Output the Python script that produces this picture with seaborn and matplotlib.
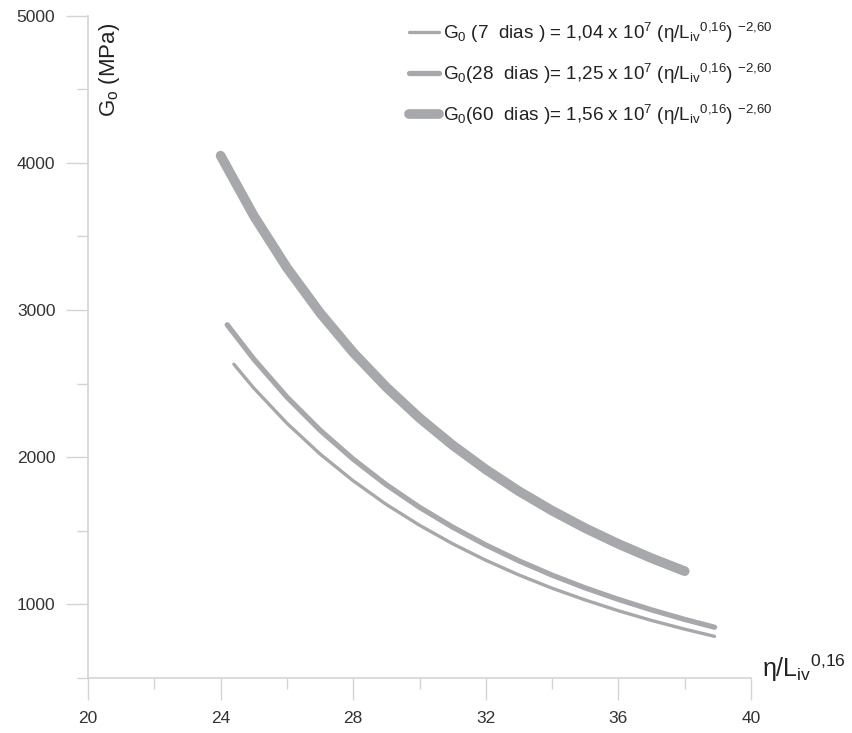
import matplotlib
matplotlib.use("Agg")
import matplotlib.pyplot as plt
import seaborn as sns
import pandas as pd
from matplotlib.ticker import MultipleLocator

# ---- data ----
x_7 = [24.4, 25, 26, 27, 28, 29, 30, 31, 32, 33, 34, 35, 36, 37, 38, 38.9]
g_7 = [2632, 2470, 2231, 2022, 1840, 1679, 1538, 1412, 1300, 1200, 1110, 1030, 957, 891, 832, 783]

x_28 = [24.2, 25, 26, 27, 28, 29, 30, 31, 32, 33, 34, 35, 36, 37, 38, 38.9]
g_28 = [2900, 2667, 2409, 2184, 1987, 1813, 1660, 1525, 1404, 1296, 1199, 1112, 1034, 963, 898, 845]

x_60 = [24.0, 25, 26, 27, 28, 29, 30, 31, 32, 33, 34, 35, 36, 37, 38.0]
g_60 = [4049, 3641, 3288, 2981, 2712, 2476, 2267, 2082, 1917, 1769, 1637, 1518, 1411, 1314, 1226]

labels = [
    r"G$_0$ (7  dias ) = 1,04 x 10$^7$ (η/L$_{\mathrm{iv}}$$^{\mathrm{0{,}16}}$) $^{\mathrm{-2{,}60}}$",
    r"G$_0$(28  dias )= 1,25 x 10$^7$ (η/L$_{\mathrm{iv}}$$^{\mathrm{0{,}16}}$) $^{\mathrm{-2{,}60}}$",
    r"G$_0$(60  dias )= 1,56 x 10$^7$ (η/L$_{\mathrm{iv}}$$^{\mathrm{0{,}16}}$) $^{\mathrm{-2{,}60}}$",
]
x_ticks = [20, 24, 28, 32, 36, 40]
y_ticks = [1000, 2000, 3000, 4000, 5000]

sns.set_theme(style="white")
plt.rcParams['font.family'] = ['Liberation Sans', 'DejaVu Sans']
plt.rcParams['mathtext.fontset'] = 'custom'
plt.rcParams['mathtext.rm'] = 'Liberation Sans'
plt.rcParams['mathtext.it'] = 'Liberation Sans:italic'

W, H = 853, 733
fig = plt.figure(figsize=(W / 100, H / 100), dpi=100)
ax = fig.add_axes([88 / W, (H - 678) / H, (751 - 88) / W, (678 - 15.7) / H])

line_col = "#a7a8ab"
spine_col = "#d4d4d4"

series = [(x_7, g_7, 2.4), (x_28, g_28, 3.8), (x_60, g_60, 7.0)]
for (xs, ys, lw), lab in zip(series, labels):
    d = pd.DataFrame({"x": xs, "g": ys})
    sns.lineplot(data=d, x="x", y="g", ax=ax, color=line_col, linewidth=lw,
                 label=lab, sort=False, solid_capstyle="round", estimator=None)

ax.set_xlim(20, 40)
ax.set_ylim(500, 5000)
ax.set_xticks(x_ticks)
ax.set_yticks(y_ticks)
ax.xaxis.set_minor_locator(MultipleLocator(2))
ax.yaxis.set_minor_locator(MultipleLocator(500))
ax.tick_params(axis="both", which="major", length=16, width=1, color=spine_col,
               labelsize=12.5, labelcolor="#333333", pad=7.5, direction="out")
ax.tick_params(axis="both", which="minor", length=8, width=1, color=spine_col, direction="out")
ax.tick_params(axis="x", which="both", bottom=True)
ax.tick_params(axis="y", which="both", left=True)
for s in ["top", "right"]:
    ax.spines[s].set_visible(False)
for s in ["left", "bottom"]:
    ax.spines[s].set_color(spine_col)
    ax.spines[s].set_linewidth(1.2)

ax.set_xlabel("")
ax.set_ylabel("")
fig.text(110 / W, 1 - 70 / H, r"G$_\mathrm{o}$ (MPa)", rotation=90, ha="center", va="center",
         fontsize=16, color="#222222")
fig.text(762 / W, 1 - 668 / H, r"η/L$_{\mathrm{iv}}$$^{\mathrm{0{,}16}}$", ha="left", va="center",
         fontsize=18, color="#222222")

leg = ax.legend(loc="upper left", bbox_to_anchor=(409 / W, 1 - 21 / H),
                bbox_transform=fig.transFigure, frameon=False, fontsize=13.6,
                handlelength=1.6, handletextpad=0.2, labelspacing=0.88, borderpad=0,
                borderaxespad=0)
for t in leg.get_texts():
    t.set_color("#222222")

fig.savefig("out.png", dpi=100, facecolor="white")
